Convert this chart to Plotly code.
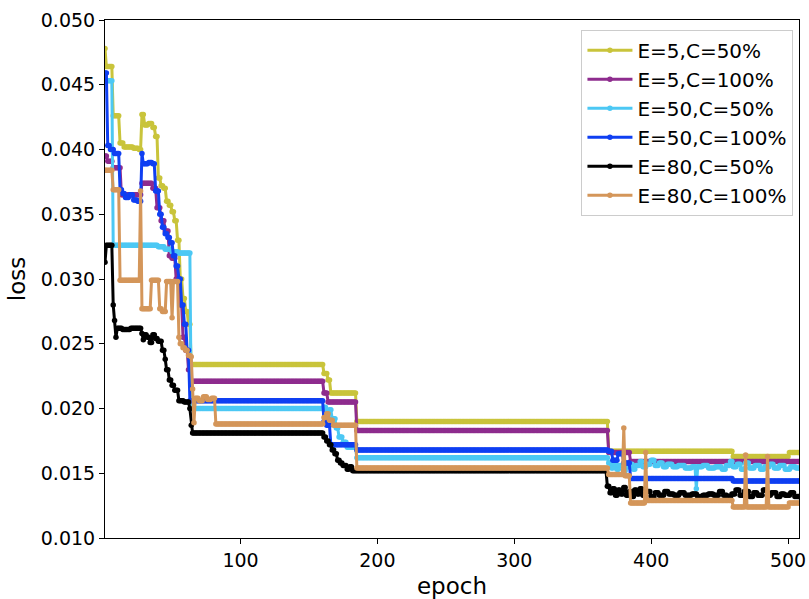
import plotly.graph_objects as go

# Epoch axis
epochs = list(range(1, 511))

# Each series is stored as change points: (first epoch of a plateau, loss value)
e5_c50 = [(1, 0.0478), (2, 0.0464), (7, 0.0426), (12, 0.0405), (15, 0.0402), (22, 0.0401), (26, 0.0400),
          (28, 0.0427), (30, 0.0419), (33, 0.0420), (36, 0.0417), (38, 0.0410), (40, 0.0378), (42, 0.0372),
          (44, 0.0370), (46, 0.0360), (48, 0.0357), (50, 0.0352), (52, 0.0345), (54, 0.0330), (56, 0.0300),
          (58, 0.0285), (60, 0.0275), (62, 0.0265), (64, 0.0234), (161, 0.0227), (164, 0.0222), (166, 0.0212),
          (185, 0.0190), (369, 0.0167), (460, 0.0163), (501, 0.0166)]

e5_c100 = [(1, 0.0395), (3, 0.0391), (7, 0.0386), (13, 0.0365), (28, 0.0374), (36, 0.0370), (39, 0.0355),
           (42, 0.0345), (45, 0.0337), (48, 0.0318), (50, 0.0316), (53, 0.0300), (56, 0.0280), (58, 0.0255),
           (60, 0.0245), (62, 0.0230), (64, 0.0221), (161, 0.0212), (164, 0.0205), (185, 0.0183),
           (369, 0.0166), (385, 0.0159)]

e50_c50 = [(1, 0.0453), (7, 0.0326), (40, 0.0325), (45, 0.0323), (50, 0.0321), (55, 0.0320), (64, 0.0200),
           (161, 0.0201), (163, 0.0195), (165, 0.0199), (167, 0.0192), (170, 0.0185), (172, 0.0178),
           (175, 0.0174), (178, 0.0170), (185, 0.0162),
           (369, 0.0158), (371, 0.0154), (373, 0.0157), (375, 0.0153), (377, 0.0156), (380, 0.0152),
           (382, 0.0155), (385, 0.0157), (387, 0.0153), (389, 0.0156), (392, 0.0159), (394, 0.0155),
           (397, 0.0157), (400, 0.0160), (403, 0.0156), (406, 0.0158), (409, 0.0155), (412, 0.0157),
           (416, 0.0155), (420, 0.0156), (425, 0.0154), (430, 0.0155), (433, 0.0138), (434, 0.0155),
           (438, 0.0156), (442, 0.0154), (447, 0.0155), (452, 0.0153), (455, 0.0156), (458, 0.0159),
           (460, 0.0155), (463, 0.0157), (466, 0.0153), (469, 0.0158), (472, 0.0154), (476, 0.0156),
           (480, 0.0153), (483, 0.0155), (487, 0.0157), (490, 0.0154), (494, 0.0156), (498, 0.0153),
           (502, 0.0155), (506, 0.0154)]

e50_c100 = [(1, 0.0459), (3, 0.0403), (5, 0.0400), (8, 0.0397), (12, 0.0369), (14, 0.0366), (16, 0.0363),
            (19, 0.0365), (22, 0.0361), (25, 0.0360), (28, 0.0397), (29, 0.0389), (33, 0.0390), (36, 0.0389),
            (38, 0.0368), (41, 0.0350), (43, 0.0340), (45, 0.0335), (47, 0.0332), (49, 0.0328), (51, 0.0318),
            (53, 0.0310), (55, 0.0300), (57, 0.0280), (59, 0.0265), (61, 0.0245), (63, 0.0206),
            (161, 0.0190), (163, 0.0187), (166, 0.0172), (185, 0.0168), (369, 0.0167), (372, 0.0160),
            (376, 0.0165), (380, 0.0158), (385, 0.0146), (460, 0.0144)]

e80_c50 = [(1, 0.0313), (2, 0.0326), (7, 0.0280), (8, 0.0268), (9, 0.0255), (10, 0.0262), (14, 0.0261),
           (20, 0.0262), (28, 0.0258), (29, 0.0253), (30, 0.0257), (32, 0.0255), (34, 0.0251), (36, 0.0257),
           (38, 0.0254), (40, 0.0252), (43, 0.0245), (45, 0.0238), (46, 0.0230), (48, 0.0222), (50, 0.0218),
           (52, 0.0214), (55, 0.0206), (59, 0.0205), (63, 0.0200), (64, 0.0187), (65, 0.0181),
           (161, 0.0178), (163, 0.0175), (165, 0.0172), (167, 0.0168), (169, 0.0165), (171, 0.0160),
           (173, 0.0158), (175, 0.0156), (178, 0.0153), (180, 0.0155), (182, 0.0152),
           (368, 0.0140), (370, 0.0135), (372, 0.0138), (374, 0.0133), (376, 0.0137), (378, 0.0134),
           (380, 0.0139), (382, 0.0133), (384, 0.0136), (386, 0.0132), (388, 0.0137), (390, 0.0134),
           (392, 0.0138), (394, 0.0133), (397, 0.0136), (400, 0.0132), (403, 0.0135), (406, 0.0133),
           (410, 0.0136), (413, 0.0134), (417, 0.0133), (421, 0.0135), (425, 0.0133), (430, 0.0134),
           (434, 0.0132), (438, 0.0133), (442, 0.0134), (446, 0.0133), (450, 0.0136), (453, 0.0133),
           (456, 0.0132), (459, 0.0134), (462, 0.0137), (465, 0.0133), (468, 0.0136), (472, 0.0132),
           (475, 0.0135), (478, 0.0133), (482, 0.0137), (485, 0.0133), (488, 0.0135), (492, 0.0132),
           (495, 0.0134), (498, 0.0133), (502, 0.0135), (505, 0.0132)]

e80_c100 = [(1, 0.0384), (7, 0.0369), (12, 0.0299), (27, 0.0368), (28, 0.0277), (35, 0.0299), (41, 0.0277),
            (43, 0.0275), (46, 0.0298), (50, 0.0270), (51, 0.0298), (55, 0.0255), (56, 0.0250), (58, 0.0247),
            (60, 0.0245), (62, 0.0241), (64, 0.0240), (65, 0.0215), (66, 0.0189), (67, 0.0208), (70, 0.0206),
            (73, 0.0209), (76, 0.0207), (79, 0.0208), (82, 0.0188), (161, 0.0193), (163, 0.0196),
            (165, 0.0191), (168, 0.0187), (185, 0.0154), (369, 0.0149), (380, 0.0185), (381, 0.0148),
            (385, 0.0127), (396, 0.0166), (397, 0.0129), (460, 0.0124), (469, 0.0164), (470, 0.0124),
            (485, 0.0163), (486, 0.0124), (501, 0.0127)]

labels = ["E=5,C=50%", "E=5,C=100%", "E=50,C=50%", "E=50,C=100%", "E=80,C=50%", "E=80,C=100%"]
colors = ["#c9c43b", "#8e2c8e", "#4cc8f4", "#0f3ff2", "#000000", "#d4965a"]
series = [e5_c50, e5_c100, e50_c50, e50_c100, e80_c50, e80_c100]

y_ticks = [0.010, 0.015, 0.020, 0.025, 0.030, 0.035, 0.040, 0.045, 0.050]
x_ticks = [100, 200, 300, 400, 500]


def expand(points):
    out = []
    idx = 0
    for e in epochs:
        while idx + 1 < len(points) and points[idx + 1][0] <= e:
            idx += 1
        out.append(points[idx][1])
    return out


fig = go.Figure()
for i, (lab, col, pts) in enumerate(zip(labels, colors, series)):
    fig.add_trace(go.Scatter(
        x=epochs, y=expand(pts), name=lab, mode="lines+markers",
        line=dict(color=col, width=3, shape="linear"),
        marker=dict(color=col, size=5.5),
        legendgroup=f"g{i}",
    ))

font = "DejaVu Sans, sans-serif"
fig.update_layout(
    width=809, height=599,
    margin=dict(l=105, r=10, t=20, b=61),
    paper_bgcolor="white", plot_bgcolor="white",
    font=dict(family=font, size=19, color="black"),
    showlegend=True,
    legend=dict(x=0.992, y=0.981, xanchor="right", yanchor="top",
                bgcolor="rgba(255,255,255,0.85)", bordercolor="#cccccc", borderwidth=1,
                font=dict(size=20), tracegroupgap=0, itemwidth=45),
    xaxis=dict(range=[1, 508], tickvals=x_ticks, ticks="outside", ticklen=5, tickcolor="black",
               showline=True, linecolor="black", linewidth=1, mirror=True, showgrid=False, zeroline=False,
               automargin=False,
               title=dict(text="epoch", standoff=14), tickfont=dict(size=19)),
    yaxis=dict(range=[0.010, 0.050], tickvals=y_ticks, tickformat=".3f", ticks="outside", ticklen=5,
               tickcolor="black", showline=True, linecolor="black", linewidth=1, mirror=True,
               showgrid=False, zeroline=False, automargin=False,
               title=dict(text="loss", standoff=8), tickfont=dict(size=19)),
)

fig.write_html("out.html")
